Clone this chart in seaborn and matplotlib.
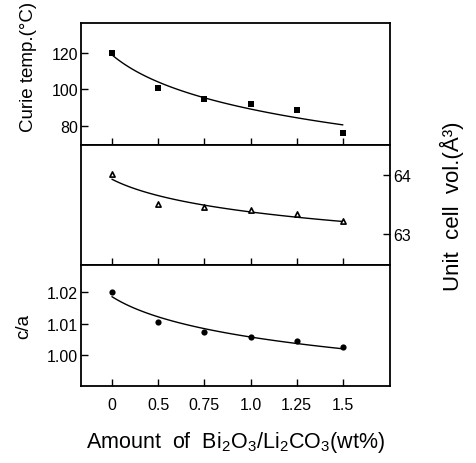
import numpy as np
import pandas as pd
import matplotlib
matplotlib.use("Agg")
import matplotlib.pyplot as plt
import seaborn as sns

# Additive amount (wt%) and the three measured properties
amount_labels = ["0", "0.5", "0.75", "1.0", "1.25", "1.5"]
curie_temp = [120, 101, 95, 92, 89, 76]
cell_volume = [64.02, 63.50, 63.45, 63.41, 63.34, 63.21]
c_over_a = [1.0199, 1.0105, 1.0073, 1.0058, 1.0045, 1.0027]

curie_ticks = [80, 100, 120]
volume_ticks = [63, 64]
ca_ticks = [1.00, 1.01, 1.02]
ca_tick_labels = ["1.00", "1.01", "1.02"]

sns.set_style("white")
plt.rcParams["font.family"] = ["Liberation Sans", "DejaVu Sans"]
plt.rcParams["mathtext.default"] = "regular"
for key in ("text.color", "axes.labelcolor", "xtick.color", "ytick.color"):
    plt.rcParams[key] = "black"

# evenly spaced category positions (start at 1 so the log trend is defined)
pos = np.arange(1, len(amount_labels) + 1)
df = pd.DataFrame({"pos": pos, "curie": curie_temp,
                   "vol": cell_volume, "ca": c_over_a})

W, H = 476, 464
fig = plt.figure(figsize=(W / 100, H / 100), dpi=100)


def frac(y):
    return 1 - y / H


L, R = 81 / W, 390 / W
ax_t = fig.add_axes([L, frac(146), R - L, frac(24) - frac(146)])
ax_m = fig.add_axes([L, frac(266), R - L, frac(146) - frac(266)])
ax_b = fig.add_axes([L, frac(387), R - L, frac(266) - frac(387)])

line_kws = dict(color="black", lw=1.0)

# Curie temperature
sns.regplot(data=df, x="pos", y="curie", logx=True, ci=None, scatter=False,
            line_kws=line_kws, ax=ax_t)
sns.scatterplot(data=df, x="pos", y="curie", marker="s", s=22, color="black",
                edgecolor="black", linewidth=0, ax=ax_t, zorder=3)

# Unit cell volume
sns.regplot(data=df, x="pos", y="vol", logx=True, ci=None, scatter=False,
            line_kws=line_kws, ax=ax_m)
sns.scatterplot(data=df, x="pos", y="vol", marker="^", s=14, color="white",
                edgecolor="black", linewidth=1.2, ax=ax_m, zorder=3)

# Tetragonality c/a
sns.regplot(data=df, x="pos", y="ca", logx=True, ci=None, scatter=False,
            line_kws=line_kws, ax=ax_b)
sns.scatterplot(data=df, x="pos", y="ca", marker="o", s=20, color="black",
                edgecolor="black", linewidth=0, ax=ax_b, zorder=3)

tick_fs = 11.5
for ax in (ax_t, ax_m, ax_b):
    ax.set_xlim(0.33, 7.02)
    ax.set_xticks(pos)
    ax.set_xlabel("")
    ax.set_ylabel("")
    ax.tick_params(axis="x", direction="in", length=5, width=1.0,
                   bottom=True, top=False, labelbottom=False, color="black")
    for sp in ax.spines.values():
        sp.set_visible(True)
        sp.set_linewidth(1.3)
        sp.set_color("black")
    ax.set_facecolor("white")

ax_t.set_ylim(69.6, 136.4)
ax_t.set_yticks(curie_ticks)
ax_t.tick_params(axis="y", direction="in", length=5, width=1.0, pad=2,
                 labelsize=tick_fs, left=True, right=False, color="black")
ax_t.set_ylabel("Curie temp.(°C)", fontsize=13.5)
ax_t.yaxis.set_label_coords(-0.142, 0.65)

ax_m.set_ylim(62.47, 64.51)
ax_m.yaxis.tick_right()
ax_m.yaxis.set_label_position("right")
ax_m.set_yticks(volume_ticks)
ax_m.tick_params(axis="y", direction="in", length=5, width=1.0, pad=2,
                 labelsize=tick_fs, left=False, right=True, color="black")
ax_m.set_ylabel("Unit  cell  vol.(Å³)", fontsize=16)
ax_m.yaxis.set_label_coords(1.16, 0.5)

ax_b.set_ylim(0.99031, 1.02853)
ax_b.set_yticks(ca_ticks)
ax_b.set_yticklabels(ca_tick_labels)
ax_b.tick_params(axis="y", direction="in", length=5, width=1.0, pad=2,
                 labelsize=tick_fs, left=True, right=False, color="black")
ax_b.set_ylabel("c/a", fontsize=13.5)
ax_b.yaxis.set_label_coords(-0.159, 0.5)
ax_b.set_xticklabels(amount_labels)
ax_b.tick_params(axis="x", labelbottom=True, labelsize=tick_fs, pad=8)
ax_b.set_xlabel("Amount  of  Bi$_2$O$_3$/Li$_2$CO$_3$(wt%)", fontsize=15.5,
                labelpad=12)

fig.savefig("out.png", dpi=100, facecolor="white")
